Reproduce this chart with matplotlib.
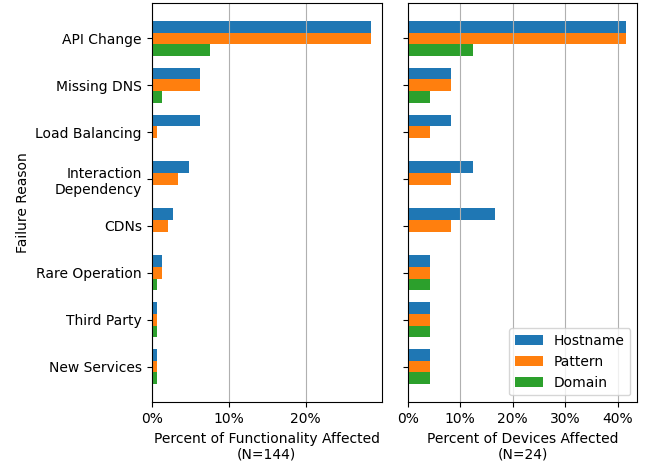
import matplotlib
matplotlib.use('Agg')
import matplotlib.pyplot as plt
import numpy as np
from matplotlib.ticker import PercentFormatter

reasons = ['API Change', 'Missing DNS', 'Load Balancing', 'Interaction\nDependency',
           'CDNs', 'Rare Operation', 'Third Party', 'New Services']

# counts (functionality N=144, devices N=24)
func_hostname = [41, 9, 9, 7, 4, 2, 1, 1]
func_pattern = [41, 9, 1, 5, 3, 2, 1, 1]
func_domain = [11, 2, 0, 0, 0, 1, 1, 1]
N_FUNC = 144

dev_hostname = [10, 2, 2, 3, 4, 1, 1, 1]
dev_pattern = [10, 2, 1, 2, 2, 1, 1, 1]
dev_domain = [3, 1, 0, 0, 0, 1, 1, 1]
N_DEV = 24

series_names = ['Hostname', 'Pattern', 'Domain']
COLORS = ['#1f77b4', '#ff7f0e', '#2ca02c']
BAR_H = 0.25


def draw(ax, data, n, ticks):
    y = np.arange(len(reasons))
    for i, vals in enumerate(data):
        pct = np.array(vals) / n * 100
        ax.barh(y + (i - 1) * BAR_H, pct, height=BAR_H, color=COLORS[i], label=series_names[i])
    ax.grid(axis='x', color='#b0b0b0')
    ax.xaxis.set_major_formatter(PercentFormatter(decimals=0))
    ax.set_xticks(ticks)
    ax.set_yticks(y)


fig = plt.figure(figsize=(6.45, 4.63), dpi=100)
ax1 = fig.add_axes([151.7 / 645, 1 - 402.3 / 463, 230 / 645, 399.6 / 463])
ax2 = fig.add_axes([407.7 / 645, 1 - 402.3 / 463, 229.6 / 645, 399.6 / 463], sharey=ax1)

draw(ax1, [func_hostname, func_pattern, func_domain], N_FUNC, [0, 10, 20])
draw(ax2, [dev_hostname, dev_pattern, dev_domain], N_DEV, [0, 10, 20, 30, 40])

ax1.set_yticklabels(reasons)
ax1.invert_yaxis()
plt.setp(ax2.get_yticklabels(), visible=False)

ax1.set_ylabel('Failure Reason')
ax1.set_xlabel('Percent of Functionality Affected\n(N=144)')
ax2.set_xlabel('Percent of Devices Affected\n(N=24)')
ax2.legend(loc='lower right')

fig.savefig('out.png', dpi=100)
